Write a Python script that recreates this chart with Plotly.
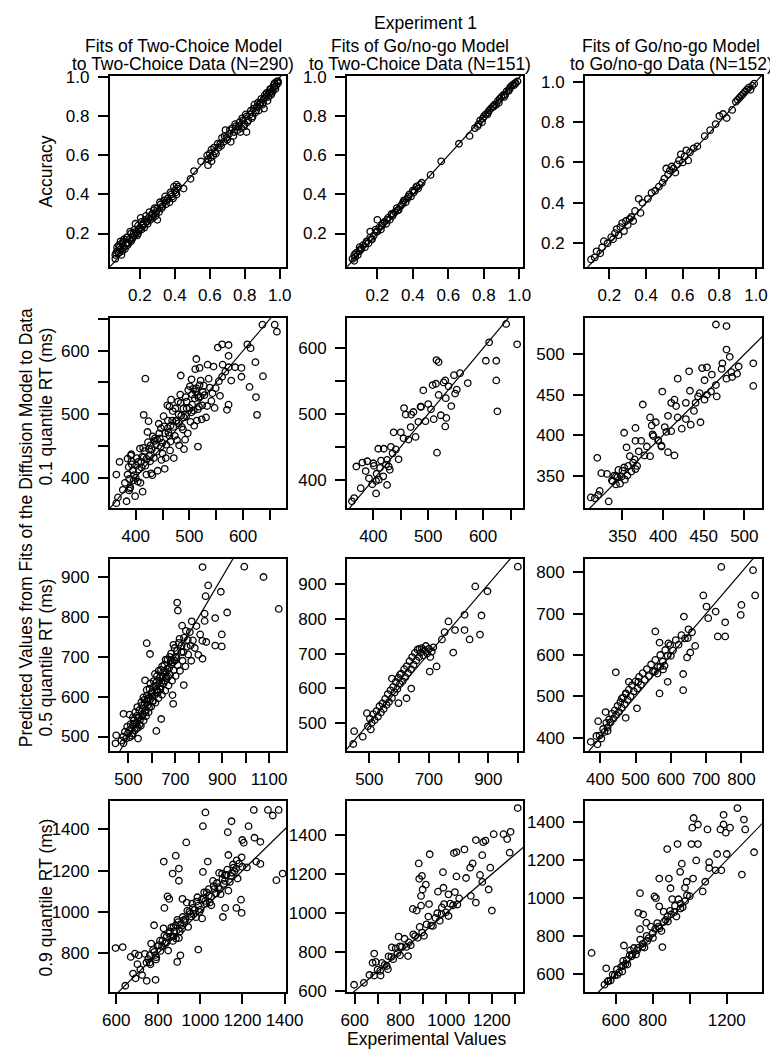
import plotly.graph_objects as go

# ---------------- data (experimental, predicted) ----------------
acc_tc = [(0.06,0.07),(0.06,0.09),(0.07,0.11),(0.07,0.13),(0.08,0.10),(0.08,0.14),(0.09,0.12),(0.09,0.16),(0.10,0.11),(0.10,0.15),(0.11,0.13),(0.11,0.17),(0.12,0.15),(0.13,0.14),(0.13,0.18),(0.14,0.17),(0.15,0.16),(0.15,0.20),(0.16,0.18),(0.17,0.22),(0.17,0.19),(0.18,0.21),(0.19,0.24),(0.19,0.20),(0.20,0.23),(0.21,0.26),(0.21,0.22),(0.22,0.25),(0.23,0.27),(0.24,0.26),(0.25,0.28),(0.26,0.27),(0.27,0.30),(0.28,0.32),(0.29,0.29),(0.30,0.27),(0.30,0.33),(0.31,0.31),(0.32,0.35),(0.33,0.34),(0.34,0.37),(0.35,0.35),(0.36,0.38),(0.37,0.36),(0.38,0.40),(0.39,0.38),(0.40,0.42),(0.41,0.45),(0.41,0.40),(0.42,0.44),(0.45,0.43),(0.49,0.48),(0.51,0.52),(0.55,0.57),(0.59,0.55),(0.59,0.58),(0.60,0.61),(0.61,0.63),(0.61,0.57),(0.62,0.60),(0.63,0.62),(0.65,0.64),(0.66,0.66),(0.67,0.69),(0.68,0.67),(0.69,0.73),(0.70,0.68),(0.71,0.71),(0.72,0.67),(0.73,0.74),(0.74,0.72),(0.75,0.75),(0.76,0.73),(0.77,0.77),(0.78,0.74),(0.79,0.78),(0.80,0.76),(0.81,0.72),(0.81,0.80),(0.82,0.78),(0.83,0.81),(0.84,0.79),(0.85,0.84),(0.86,0.82),(0.87,0.85),(0.88,0.83),(0.89,0.87),(0.90,0.86),(0.91,0.89),(0.91,0.84),(0.92,0.90),(0.93,0.88),(0.94,0.92),(0.95,0.91),(0.95,0.94),(0.96,0.93),(0.97,0.95),(0.97,0.97),(0.98,0.96),(0.99,0.98),
 (0.065,0.10),(0.085,0.13),(0.095,0.09),(0.105,0.16),(0.115,0.12),(0.125,0.18),(0.135,0.15),(0.145,0.21),(0.155,0.17),(0.165,0.20),(0.175,0.25),(0.185,0.19),(0.195,0.22),(0.205,0.28),(0.215,0.24),(0.225,0.23),(0.235,0.29),(0.245,0.25),(0.255,0.31),(0.265,0.29),(0.275,0.28),(0.285,0.33),(0.295,0.31),(0.315,0.36),(0.325,0.33),(0.345,0.39),(0.355,0.37),(0.375,0.41),(0.385,0.39),(0.395,0.44),(0.405,0.41),(0.415,0.43),(0.585,0.60),(0.605,0.59),(0.625,0.64),(0.635,0.61),(0.645,0.66),(0.665,0.65),(0.685,0.70),(0.695,0.69),(0.715,0.73),(0.735,0.70),(0.745,0.76),(0.765,0.75),(0.775,0.72),(0.785,0.79),(0.795,0.75),(0.805,0.81),(0.815,0.77),(0.835,0.83),(0.845,0.80),(0.855,0.86),(0.865,0.83),(0.875,0.87),(0.885,0.86),(0.895,0.89),(0.905,0.87),(0.915,0.91),(0.925,0.92),(0.935,0.90),(0.945,0.94),(0.955,0.92),(0.965,0.96),(0.975,0.94),(0.985,0.98),(0.99,0.97)]
acc_gng_tc = [(0.06,0.07),(0.07,0.09),(0.07,0.06),(0.08,0.10),(0.09,0.09),(0.10,0.11),(0.10,0.13),(0.11,0.12),(0.12,0.14),(0.13,0.13),(0.14,0.16),(0.15,0.15),(0.16,0.18),(0.16,0.21),(0.17,0.17),(0.18,0.19),(0.19,0.22),(0.20,0.27),(0.20,0.21),(0.21,0.23),(0.22,0.22),(0.23,0.25),(0.24,0.26),(0.25,0.25),(0.26,0.28),(0.27,0.27),(0.28,0.30),(0.29,0.30),(0.30,0.31),(0.31,0.33),(0.32,0.32),(0.33,0.34),(0.34,0.35),(0.35,0.37),(0.36,0.36),(0.37,0.38),(0.38,0.40),(0.39,0.39),(0.40,0.42),(0.41,0.42),(0.42,0.44),(0.43,0.43),(0.44,0.45),(0.45,0.46),(0.50,0.50),(0.56,0.57),(0.66,0.66),(0.72,0.70),(0.75,0.74),(0.77,0.76),(0.78,0.78),(0.79,0.77),(0.80,0.80),(0.81,0.81),(0.82,0.81),(0.83,0.83),(0.84,0.84),(0.85,0.85),(0.86,0.86),(0.87,0.86),(0.88,0.88),(0.89,0.89),(0.90,0.90),(0.91,0.91),(0.92,0.91),(0.93,0.93),(0.94,0.93),(0.95,0.95),(0.96,0.96),(0.97,0.96),(0.98,0.97),(0.99,0.98),
 (0.075,0.08),(0.105,0.12),(0.135,0.15),(0.165,0.17),(0.195,0.21),(0.225,0.24),(0.255,0.27),(0.285,0.29),(0.315,0.32),(0.345,0.36),(0.375,0.39),(0.405,0.41),(0.425,0.44),(0.765,0.75),(0.795,0.79),(0.825,0.82),(0.855,0.85),(0.885,0.87),(0.915,0.90),(0.945,0.94),(0.975,0.97)]
acc_gng = [(0.10,0.12),(0.12,0.13),(0.13,0.16),(0.15,0.15),(0.16,0.18),(0.17,0.21),(0.19,0.20),(0.21,0.23),(0.22,0.22),(0.23,0.25),(0.24,0.27),(0.25,0.24),(0.26,0.28),(0.27,0.30),(0.28,0.26),(0.29,0.31),(0.30,0.29),(0.31,0.32),(0.32,0.33),(0.33,0.31),(0.34,0.36),(0.36,0.42),(0.37,0.35),(0.38,0.40),(0.41,0.42),(0.43,0.45),(0.45,0.46),(0.47,0.48),(0.49,0.50),(0.50,0.52),(0.51,0.57),(0.52,0.54),(0.53,0.56),(0.54,0.58),(0.55,0.57),(0.56,0.55),(0.57,0.59),(0.58,0.61),(0.59,0.64),(0.60,0.60),(0.61,0.63),(0.62,0.66),(0.63,0.61),(0.64,0.65),(0.66,0.67),(0.68,0.68),(0.72,0.73),(0.75,0.76),(0.78,0.79),(0.80,0.83),(0.82,0.84),(0.84,0.82),(0.87,0.86),(0.89,0.90),(0.90,0.91),(0.91,0.92),(0.92,0.93),(0.93,0.94),(0.94,0.95),(0.95,0.96),(0.96,0.97),(0.97,0.96),(0.98,0.98),(0.99,0.99)]

q1_tc = [(364,405),(370,425),(364,360),(367,369),(376,381),(389,383),(418,556),(415,499),(424,489),(385,430),(391,435),(463,512),(466,523),(484,561),(490,445),(454,414),(513,587),(519,573),(504,555),(513,541),(516,449),(561,610),(573,592),(573,574),(570,507),(573,515),(585,574),(597,573),(608,610),(614,604),(623,582),(612,543),(624,527),(626,499),(636,641),(659,641),(663,630),(637,560),(561,559),(578,553),(597,559),
 (380,392),(383,363),(387,417),(390,385),(392,437),(396,396),(399,371),(401,419),(404,394),(408,446),(411,416),(413,378),(417,442),(420,405),(422,472),(426,434),(429,407),(432,465),(434,431),(438,453),(441,411),(443,485),(447,449),(450,438),(453,481),(456,431),(459,514),(461,471),(465,457),(468,490),(471,431),(474,509),(477,459),(480,486),(483,531),(486,480),(489,509),(492,460),(495,509),(498,538),(502,488),(505,531),(508,506),(511,571),(514,490),(517,526),(521,553),(524,514),(527,545),(531,495),(534,578),(538,542),(541,521),(545,575),(549,541),(553,605),(557,529),(562,578),(567,567),(573,609),
 (385,405),(395,412),(405,425),(415,432),(425,445),(435,458),(445,462),(455,470),(465,482),(475,490),(485,498),(495,520),(505,515),(515,530),(525,535),(400,400),(410,425),(420,430),(430,445),(440,460),(450,455),(460,490),(470,480),(480,500),(490,495),(500,510),(510,525),(520,528),
 (388,398),(393,421),(397,404),(402,431),(406,413),(409,392),(414,447),(418,419),(423,456),(427,426),(431,404),(436,462),(439,441),(444,470),(448,428),(452,497),(457,452),(460,478),(464,443),(469,505),(473,466),(476,489),(481,451),(484,518),(488,476),(493,527),(497,470),(501,544),(504,503),(509,482),(512,536),(516,508),(519,546),(523,492),(528,530),(533,513),(536,556),(543,533),(547,510),(555,552),(388,380),(392,426),(412,433),(428,451),(447,478),(463,466),(479,520),(494,497),(507,540),(518,512)]
q1_gng_tc = [(365,372),(361,367),(377,387),(369,420),(380,426),(389,428),(386,413),(405,379),(425,392),(409,447),(456,509),(469,499),(487,511),(508,544),(516,441),(515,582),(519,579),(531,551),(533,494),(531,481),(549,531),(558,562),(572,547),(605,581),(611,609),(624,581),(624,551),(626,504),(642,637),(662,606),
 (392,402),(398,393),(401,421),(406,409),(410,400),(414,429),(419,447),(423,423),(428,420),(432,450),(437,472),(441,446),(446,431),(450,472),(455,463),(459,499),(464,461),(468,480),(473,503),(477,465),(482,488),(486,511),(491,536),(495,489),(500,515),(505,507),(510,492),(514,546),(519,529),(523,498),(528,548),(532,524),(537,542),(542,512),(547,559),(552,537),
 (400,425),(405,398),(412,418),(418,405),(425,430),(430,415),(435,440)]
q1_gng = [(311,323),(316,322),(320,326),(322,331),(333,318),(319,372),(324,353),(331,352),(337,344),(342,349),(352,403),(355,385),(366,409),(366,393),(375,438),(384,422),(386,412),(388,399),(394,393),(398,387),(399,454),(404,404),(406,379),(414,375),(410,440),(416,436),(418,470),(428,420),(432,479),(434,413),(440,440),(446,416),(445,452),(451,468),(454,484),(451,444),(459,454),(465,462),(465,537),(478,535),(473,489),(482,497),(478,470),(485,472),(491,476),(493,485),(511,489),(511,461),
 (338,343),(342,339),(345,357),(349,349),(352,360),(356,350),(359,374),(363,366),(366,358),(370,380),(373,393),(377,375),(380,386),(384,374),(387,401),(391,416),(394,394),(398,386),(402,410),(406,424),(410,405),(414,444),(418,422),(423,408),(428,440),(433,455),(438,430),(443,448),(448,483),(454,450),(460,475),(466,448),(472,482),(478,506),(484,478),
 (340,350),(344,348),(347,340),(350,356),(353,345),(357,362),(361,355),(365,370),(368,362)]

q5_tc = [(448,503),(445,483),(479,483),(479,557),(505,555),(541,495),(578,734),(592,707),(571,641),(619,514),(640,544),(691,582),(688,604),(708,836),(711,816),(736,629),(729,778),(770,789),(816,925),(840,879),(829,852),(825,808),(816,695),(832,737),(870,797),(870,728),(894,863),(898,756),(898,726),(921,811),(994,926),(1076,900),(1141,820),
 (470,490),(478,500),(485,512),(490,495),(495,525),(498,508),
 (505,498),(512,521),(518,507),(523,540),(527,515),(533,531),(536,552),(541,522),(546,566),(549,541),(553,527),(558,578),(561,556),(565,540),(568,592),(572,566),(575,551),(579,603),(583,579),(586,561),(590,620),(594,594),(597,575),(601,612),(604,588),(608,639),(611,603),(615,585),(618,627),(622,652),(625,610),(628,596),(632,640),(636,618),(639,667),(643,605),(646,651),(650,633),(653,680),(657,615),(660,662),(664,646),(667,693),(671,628),(674,672),(678,655),(682,708),(686,640),(689,686),(693,666),(697,722),(701,652),(705,698),(710,679),(715,735),(720,665),(726,712),(731,690),(737,748),(743,676),(749,725),(755,706),(762,762),(768,690),(775,741),(783,722),(790,777),(798,705),(806,756),(815,740),(825,790),
 (520,530),(540,548),(560,570),(580,590),(600,600),(620,618),(640,636),(660,650),(680,690),(700,700),
 (503,515),(509,531),(514,502),(519,548),(525,533),(529,561),(534,520),(538,574),(544,547),(548,530),(555,586),(559,551),(564,598),(569,581),(573,560),(578,617),(584,596),(588,572),(593,633),(599,608),(603,590),(609,626),(613,657),(619,636),(624,615),(629,665),(634,648),(638,625),(644,676),(648,661),(655,640),(659,693),(665,670),(669,650),(676,700),(684,681),(692,730),(698,690),(707,715),(718,745),(727,728),(735,712),(745,765),(753,742),(765,728)]
q5_gng_tc = [(446,439),(449,476),(478,460),(492,528),(505,481),(576,628),(603,639),(625,571),(598,557),(641,599),(668,713),(703,648),(726,663),(744,741),(753,762),(766,793),(782,703),(788,768),(820,812),(820,768),(837,741),(856,894),(872,755),(877,810),(897,880),(999,951),
 (495,490),(502,512),(508,500),(513,525),(518,508),(524,534),(529,518),(534,548),(539,530),(544,556),(548,540),(553,569),(558,552),(562,583),(566,560),(571,594),(576,572),(580,604),(585,588),(589,618),(594,598),(598,630),(603,612),(607,642),(612,620),(617,655),(621,632),(626,664),(630,644),(635,678),(640,655),(644,690),(649,668),(653,702),(658,680),(662,712),(667,690),(672,703),(676,716),(681,695),(686,709),(690,722),(695,700),(700,714),(705,690),(710,706),(715,718)]
q5_gng = [(373,390),(392,384),(389,404),(394,440),(415,462),(444,558),(421,416),(461,495),(472,507),(481,535),(472,448),(504,471),(508,535),(556,657),(568,630),(568,507),(591,535),(593,628),(600,598),(635,554),(635,515),(637,693),(648,641),(646,594),(655,606),(669,622),(692,744),(701,717),(706,689),(727,705),(733,645),(754,679),(754,645),(743,813),(800,721),(798,697),(833,805),(839,744),
 (398,405),(403,398),(408,421),(412,414),(417,436),(421,425),(425,444),(429,437),(433,458),(437,446),(441,466),(445,455),(449,477),(453,462),(457,486),(461,472),(465,497),(469,481),(473,506),(477,492),(481,516),(486,500),(490,527),(495,512),(500,536),(505,519),(510,547),(515,528),(520,556),(526,540),(532,566),(538,549),(544,577),(550,560),(556,588),(563,571),(570,600),(577,584),(584,612),(591,598),(598,624),(606,611),(614,636),(622,625),(630,648),(640,640),(650,662),(660,655),
 (555,560),(562,555),(570,572),(578,565),(582,574)]

q9_tc = [(597,824),(631,829),(643,641),(669,781),(689,797),(707,789),(745,665),(787,670),(780,935),(826,1244),(829,1019),(844,1075),(852,1063),(868,1186),(883,1273),(898,1210),(898,1151),(890,757),(905,789),(933,1337),(915,1063),(990,817),(1012,1416),(1024,1483),(1012,1194),(1035,1244),(1107,975),(1118,1019),(1130,1387),(1133,1276),(1148,1440),(1171,1019),(1196,995),(1193,1059),(1196,1265),(1229,1416),(1254,1495),(1199,1349),(1257,1360),(1285,1340),(1265,1244),(1285,1233),(1321,1495),(1344,1468),(1372,1495),(1361,1154),(1391,1186),
 (680,700),(692,677),(701,746),(715,720),(723,693),(736,796),(744,754),(759,754),(766,846),(781,806),(789,769),(803,838),(810,810),(825,920),(832,847),(847,812),(855,905),(869,859),(876,906),(891,961),(898,873),(913,918),(920,960),(935,1045),(942,927),(957,977),(964,1019),(979,974),(986,1071),(1001,1011),(1008,968),(1023,1053),(1030,1095),(1045,1045),(1052,1032),(1067,1112),(1074,1089),(1089,1189),(1096,1086),(1111,1136),(1118,1178),(1133,1103),(1140,1145),(1155,1230),(1162,1197),(1177,1162),(1184,1234),(1199,1219),(1206,1336),(1221,1216),
 (860,880),(872,925),(884,870),(905,940),(926,955),(948,1000),(968,990),(990,1030),(1015,1065),(1040,1080),(1060,1150),(1085,1120),(1105,1160),(1125,1180),(1150,1190),(1170,1210),(760,790),(790,780),(820,860),(840,880),
 (752,770),(763,745),(775,815),(786,790),(797,835),(808,860),(818,832),(829,885),(838,850),(851,895),(862,925),(873,880),(883,935),(894,950),(903,905),(916,975),(929,965),(938,1005),(952,990),(961,1040),(973,1010),(982,1050),(996,1000),(1007,1060),(1018,1095),(1028,1040),(1039,1110),(1051,1075),(1063,1125),(1078,1140),(1092,1110),(1103,1185),(1116,1150),(1128,1205),(1145,1175),(1158,1215),(1173,1250)]
q9_gng_tc = [(597,632),(640,642),(664,682),(685,792),(678,745),(692,749),(685,679),(713,679),(745,712),(762,824),(792,879),(798,829),(833,779),(854,1021),(871,1013),(880,1255),(882,1176),(894,1191),(890,1088),(897,1121),(911,1146),(890,1038),(925,1046),(928,1302),(964,1110),(986,1210),(988,1130),(981,1029),(1010,1096),(1034,1308),(1045,1313),(1045,1188),(1080,1327),(1087,1180),(1108,1088),(1130,1054),(1105,1233),(1116,1255),(1130,1375),(1158,1297),(1162,1364),(1148,1196),(1158,1160),(1172,1372),(1186,1121),(1200,1013),(1193,1233),(1208,1405),(1251,1405),(1267,1380),(1282,1417),(1278,1310),(1313,1539),
 (700,710),(711,703),(719,744),(731,734),(740,728),(748,778),(760,775),(768,763),(779,819),(787,795),(798,783),(806,826),(818,868),(826,826),(837,849),(845,835),(856,891),(864,882),(876,873),(884,929),(895,900),(903,883),(914,942),(922,982),(934,936),(942,934),(953,975),(961,999),(972,960),(980,995),(991,1046),(999,1004),(1010,985),(1018,1048),(1030,1040),(1038,1108),(1049,1044),(1057,1075)]
q9_gng = [(469,712),(548,631),(539,545),(556,562),(609,597),(635,614),(644,751),(678,725),(722,923),(748,914),(731,1026),(731,837),(765,871),(809,1009),(817,1000),(835,1103),(852,743),(835,957),(878,1258),(887,1103),(896,1052),(934,1284),(948,1138),(957,1181),(983,1086),(1009,1284),(1021,1421),(1014,1370),(1018,1103),(1044,1387),(1044,1284),(1035,1198),(1070,1035),(1084,1086),(1096,1361),(1105,1189),(1105,1158),(1140,1146),(1148,1232),(1166,1361),(1171,1146),(1183,1438),(1183,1387),(1195,1344),(1200,1232),(1218,1370),(1258,1473),(1282,1124),(1293,1413),(1300,1361),(1348,1241),
 (560,565),(572,567),(583,598),(594,594),(606,626),(617,609),(629,639),(640,670),(652,654),(663,651),(675,700),(686,694),(698,738),(709,704),(721,739),(732,782),(744,744),(755,740),(767,802),(778,790),(790,850),(801,791),(813,838),(824,869),(836,841),(847,827),(859,929),(870,885),(882,877),(893,933),(905,995),(916,926),(928,903),(939,994),(951,971),(962,952),(974,1054),(985,1015),
 (640,645),(660,675),(690,705),(715,725),(745,760),(770,775),(800,815),(830,850),(860,875),(880,905),(900,915),(920,960),(950,945),(975,985),(1000,1010)]

col_titles = [["Fits of Two-Choice Model", "to Two-Choice Data (N=290)"],
              ["Fits of Go/no-go Model", "to Two-Choice Data (N=151)"],
              ["Fits of Go/no-go Model", "to Go/no-go Data (N=152)"]]
row_labels = ["Accuracy", "0.1 quantile RT (ms)", "0.5 quantile RT (ms)", "0.9 quantile RT (ms)"]

acc_ticks = [0.2, 0.4, 0.6, 0.8, 1.0]
acc_text = ["0.2", "0.4", "0.6", "0.8", "1.0"]
# (data, x range, y range, x ticks, x tick labels, y ticks, y tick labels)
panels = [
    (acc_tc, [0.029, 1.036], [0.029, 1.007], acc_ticks, acc_text, acc_ticks, acc_text),
    (acc_gng_tc, [0.029, 1.022], [0.029, 1.007], acc_ticks, acc_text, acc_ticks, acc_text),
    (acc_gng, [0.0675, 1.034], [0.083, 1.028], acc_ticks, acc_text, acc_ticks, acc_text),
    (q1_tc, [352, 680], [352.5, 651.5], [400, 450, 500, 550, 600, 650], ["400", "", "500", "", "600", ""],
     [400, 450, 500, 550, 600, 650], ["400", "", "500", "", "600", ""]),
    (q1_gng_tc, [352, 673], [357, 646], [400, 450, 500, 550, 600, 650], ["400", "", "500", "", "600", ""],
     [400, 450, 500, 550, 600], ["400", "", "500", "", "600"]),
    (q1_gng, [304, 522], [310, 545], [350, 400, 450, 500], ["350", "400", "450", "500"],
     [350, 400, 450, 500], ["350", "400", "450", "500"]),
    (q5_tc, [421, 1172], [464, 945], [500, 600, 700, 800, 900, 1000, 1100], ["500", "", "700", "", "900", "", "1100"],
     [500, 600, 700, 800, 900], ["500", "600", "700", "800", "900"]),
    (q5_gng_tc, [425, 1017], [419, 973], [500, 600, 700, 800, 900, 1000], ["500", "", "700", "", "900", ""],
     [500, 600, 700, 800, 900], ["500", "600", "700", "800", "900"]),
    (q5_gng, [357, 859], [368, 832], [400, 500, 600, 700, 800], ["400", "500", "600", "700", "800"],
     [400, 500, 600, 700, 800], ["400", "500", "600", "700", "800"]),
    (q9_tc, [570, 1407], [611, 1538], [600, 800, 1000, 1200, 1400], ["600", "800", "1000", "1200", "1400"],
     [800, 1000, 1200, 1400], ["800", "1000", "1200", "1400"]),
    (q9_gng_tc, [566, 1337], [595, 1575], [600, 700, 800, 900, 1000, 1100, 1200, 1300],
     ["600", "", "800", "", "1000", "", "1200", ""],
     [600, 800, 1000, 1200, 1400], ["600", "800", "1000", "1200", "1400"]),
    (q9_gng, [434, 1392], [507, 1510], [600, 800, 1000, 1200], ["600", "800", "", "1200"],
     [600, 800, 1000, 1200, 1400], ["600", "800", "1000", "1200", "1400"]),
]

# ---------------- layout geometry ----------------
W, H = 778, 1050
col_px = [(97, 279), (342, 524), (588, 771)]
row_px = [(61, 255), (307, 500), (552, 747), (798, 992)]
FONT = "Liberation Sans, Arial, Helvetica, sans-serif"
FS = 17.5
TFS = 17

fig = go.Figure()
layout = dict(width=W, height=H, margin=dict(l=0, r=0, t=0, b=0),
              paper_bgcolor="white", plot_bgcolor="white", showlegend=False,
              font=dict(family=FONT, size=FS, color="black"))

for k, (pts, xr, yr, xt, xtt, yt, ytt) in enumerate(panels):
    r, c = divmod(k, 3)
    n = "" if k == 0 else str(k + 1)
    xs = [p[0] for p in pts]
    ys = [p[1] for p in pts]
    lo = min(xr[0], yr[0]); hi = max(xr[1], yr[1])
    fig.add_trace(go.Scatter(x=[lo, hi], y=[lo, hi], mode="lines",
                             line=dict(color="black", width=1.2),
                             xaxis="x" + n, yaxis="y" + n, hoverinfo="skip"))
    fig.add_trace(go.Scatter(x=xs, y=ys, mode="markers", cliponaxis=False,
                             marker=dict(symbol="circle-open", size=6.5, color="black",
                                         line=dict(width=1.3)),
                             xaxis="x" + n, yaxis="y" + n))
    common = dict(showgrid=False, zeroline=False, showline=True, linecolor="black",
                  linewidth=2, mirror=True, ticks="outside", ticklen=10, tickwidth=2,
                  tickcolor="black", tickfont=dict(family=FONT, size=TFS, color="black"),
                  tickmode="array")
    layout["xaxis" + n] = dict(common, range=xr, tickvals=xt, ticktext=xtt,
                               ticklabelstandoff=2,
                               domain=[col_px[c][0] / W, col_px[c][1] / W],
                               anchor="y" + n)
    layout["yaxis" + n] = dict(common, range=yr, tickvals=yt, ticktext=ytt,
                               ticklabelstandoff=5,
                               domain=[1 - row_px[r][1] / H, 1 - row_px[r][0] / H],
                               anchor="x" + n)

ann = []
def add_text(text, x, y, angle=0, size=FS):
    ann.append(dict(text=text, x=x / W, y=1 - y / H, xref="paper", yref="paper",
                    showarrow=False, xanchor="center", yanchor="middle",
                    textangle=angle, font=dict(family=FONT, size=size, color="black")))

add_text("Experiment 1", 423, 7.5)
title_x = [173, 417, 677]
for c in range(3):
    add_text(col_titles[c][0], title_x[c], 30.5)
    add_text(col_titles[c][1], title_x[c], 49)
row_label_y = [158, 397, 652, 896]
for r in range(4):
    add_text(row_labels[r], 31, row_label_y[r], angle=-90)
add_text("Predicted Values from Fits of the Diffusion Model to Data", 10, 520, angle=-90)
add_text("Experimental Values", 424, 1040)

layout["annotations"] = ann
fig.update_layout(**layout)
fig.write_html("out.html")
